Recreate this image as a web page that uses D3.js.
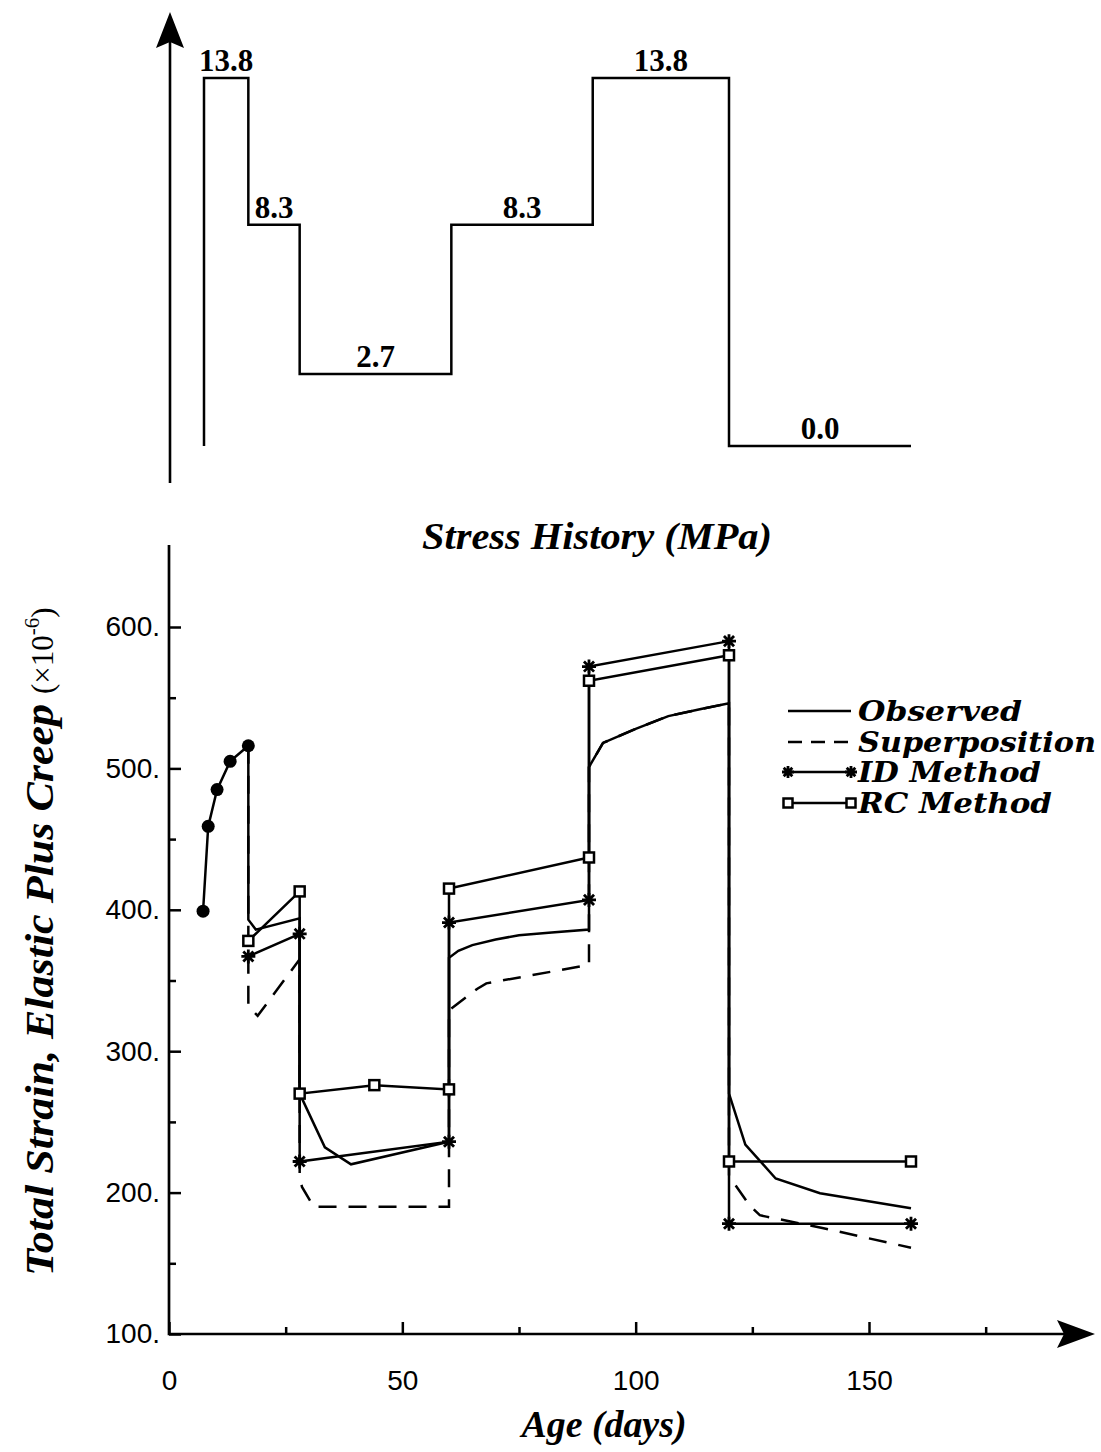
<!DOCTYPE html>
<html>
<head>
<meta charset="utf-8">
<script src="https://cdn.jsdelivr.net/npm/d3@7"></script>
<style>
  body { margin: 0; background: #fff; }
  svg { display: block; }
</style>
</head>
<body>
<svg id="chart" width="1101" height="1452"></svg>
<script>
// Stress history (MPa) : ages where the load changes, and the level held after each change
var stressAges = [7.5, 17, 28, 60.5, 90.8, 120, 159];
var stressValues = [13.8, 8.3, 2.7, 8.3, 13.8, 0.0];

// Strain (x10^-6) against age (days)
var earlyAges = [7.3, 8.4, 10.3, 13.1, 17];
var earlyStrain = [399, 459, 485, 505, 516];

var observedAges = [17, 17, 18.6, 28, 28, 33.4, 39, 60, 60, 62, 65, 70, 75, 82, 90, 90, 93, 100, 107, 114, 120, 120, 123.5, 130, 139.5, 159];
var observedStrain = [516, 393, 386, 394, 270, 232, 220, 236, 366, 371, 375, 379, 382, 384, 386, 501, 518, 528, 537, 542, 546, 270, 234, 210, 199.5, 189];

var superAges = [17, 17, 19, 28, 28, 28.5, 31, 60, 60, 66, 68, 90, 90, 93, 100, 107, 114, 120, 120, 121, 124.4, 126.6, 128, 140, 159];
var superStrain = [516, 332, 325, 365, 211, 204, 190, 190, 329, 344, 348, 361, 501, 518, 528, 537, 542, 546, 212, 207, 191, 184, 183, 175, 161];

var idAges = [17, 28, 28, 60, 60, 90, 90, 120, 120, 159];
var idStrain = [367, 383, 222, 236, 391, 407, 572, 590, 178, 178];

var rcAges = [17, 28, 28, 44, 60, 60, 90, 90, 120, 120, 159];
var rcStrain = [378, 413, 270, 276, 273, 415, 437, 562, 580, 222, 222];

var xTicks = [0, 50, 100, 150];
var xMinorTicks = [25, 75, 125, 175];
var yTicks = [100, 200, 300, 400, 500, 600];
var yMinorTicks = [150, 250, 350, 450, 550];

var legendNames = ["Observed", "Superposition", "ID Method", "RC Method"];


var svg = d3.select("#chart");
var ink = "#000";

var x = d3.scaleLinear().domain([0, 150]).range([169, 869]);
var y = d3.scaleLinear().domain([100, 600]).range([1334, 627]);
var ys = d3.scaleLinear().domain([0, 13.8]).range([446, 78]);

var axisTop = 545, axisEnd = 1095;
var stressTop = 12, stressBottom = 483, stressAxisX = 170;


// ---- stress history (top) ----
var stressPts = [[stressAges[0], 0]];
stressValues.forEach((v, i) => {
  stressPts.push([stressAges[i], v], [stressAges[i + 1], v]);
});

svg.append("line")
  .attr("x1", stressAxisX).attr("x2", stressAxisX)
  .attr("y1", stressBottom).attr("y2", stressTop + 20)
  .attr("stroke", ink).attr("stroke-width", 2.6);
svg.append("path")
  .attr("d", `M${stressAxisX},${stressTop} L${stressAxisX + 14},${stressTop + 36} L${stressAxisX},${stressTop + 30} L${stressAxisX - 14},${stressTop + 36} Z`)
  .attr("fill", ink);

svg.append("path")
  .datum(stressPts)
  .attr("d", d3.line().x(d => x(d[0])).y(d => ys(d[1])))
  .attr("fill", "none").attr("stroke", ink).attr("stroke-width", 2.5);

svg.append("g").selectAll("text")
  .data(stressValues)
  .join("text")
  .attr("x", (d, i) => (x(stressAges[i]) + x(stressAges[i + 1])) / 2)
  .attr("y", d => ys(d) - 7)
  .attr("text-anchor", "middle")
  .attr("font-family", "Liberation Serif, serif")
  .attr("font-weight", "bold")
  .attr("font-size", 31)
  .text(d => d.toFixed(1));

svg.append("text")
  .attr("x", 597).attr("y", 549)
  .attr("text-anchor", "middle")
  .attr("font-family", "Liberation Serif, serif")
  .attr("font-weight", "bold").attr("font-style", "italic")
  .attr("font-size", 37)
  .attr("textLength", 350).attr("lengthAdjust", "spacingAndGlyphs")
  .text("Stress History (MPa)");


// ---- strain axes ----
function styleAxis (g) {
  g.select(".domain").remove();
  g.selectAll(".tick line").attr("stroke", ink).attr("stroke-width", 2.5);
  g.attr("font-family", "Liberation Sans, Arial, sans-serif").attr("font-size", 28);
  g.selectAll(".tick text").attr("fill", ink);
}

svg.append("g").attr("transform", `translate(${x(0)},0)`)
  .call(d3.axisLeft(y).tickValues(yTicks).tickSize(-12).tickPadding(9).tickFormat(d => d + "."))
  .call(styleAxis);
svg.append("g").attr("transform", `translate(${x(0)},0)`)
  .call(d3.axisLeft(y).tickValues(yMinorTicks).tickSize(-7).tickFormat(""))
  .call(styleAxis);

svg.append("g").attr("transform", `translate(0,${y(100)})`)
  .call(d3.axisBottom(x).tickValues(xTicks).tickSize(-12).tickPadding(36).tickFormat(d3.format("d")))
  .call(styleAxis);
svg.append("g").attr("transform", `translate(0,${y(100)})`)
  .call(d3.axisBottom(x).tickValues(xMinorTicks).tickSize(-7).tickFormat(""))
  .call(styleAxis);

svg.append("path")
  .attr("d", `M${x(0)},${axisTop} L${x(0)},${y(100)} L${axisEnd - 20},${y(100)}`)
  .attr("fill", "none").attr("stroke", ink).attr("stroke-width", 2.7);
svg.append("path")
  .attr("d", `M${axisEnd},${y(100)} L${axisEnd - 38},${y(100) - 14} L${axisEnd - 31},${y(100)} L${axisEnd - 38},${y(100) + 14} Z`)
  .attr("fill", ink);

svg.append("text")
  .attr("x", 604).attr("y", 1437)
  .attr("text-anchor", "middle")
  .attr("font-family", "Liberation Serif, serif")
  .attr("font-weight", "bold").attr("font-style", "italic")
  .attr("font-size", 38)
  .attr("textLength", 165).attr("lengthAdjust", "spacingAndGlyphs")
  .text("Age (days)");

// y title, rotated
var yTitle = svg.append("g").attr("transform", "translate(53,0) rotate(-90)");
yTitle.append("text")
  .attr("x", -1276).attr("y", 0)
  .attr("font-family", "Liberation Serif, serif")
  .attr("font-weight", "bold").attr("font-style", "italic")
  .attr("font-size", 40)
  .attr("textLength", 572).attr("lengthAdjust", "spacingAndGlyphs")
  .text("Total Strain, Elastic Plus Creep");
var ySuffix = yTitle.append("text")
  .attr("x", -694).attr("y", 0)
  .attr("font-family", "Liberation Serif, serif")
  .attr("font-size", 31);
ySuffix.append("tspan").text("(×10");
ySuffix.append("tspan").attr("dy", -14).attr("font-size", 21).text("-6");
ySuffix.append("tspan").attr("dy", 14).text(")");


// ---- strain series ----
var line = d3.line().x(d => x(d[0])).y(d => y(d[1]));

function drawSeries (ages, values, dash) {
  svg.append("path")
    .datum(d3.zip(ages, values))
    .attr("d", line)
    .attr("fill", "none")
    .attr("stroke", ink)
    .attr("stroke-width", 2.5)
    .attr("stroke-dasharray", dash || null);
}

drawSeries(superAges, superStrain, "18,12");
drawSeries(observedAges, observedStrain);
drawSeries(earlyAges, earlyStrain);
drawSeries(idAges, idStrain);
drawSeries(rcAges, rcStrain);

function star (sel, r) {
  var a = r * 0.72;
  sel.append("path")
    .attr("d", `M${-r},0L${r},0M0,${-r}L0,${r}M${-a},${-a}L${a},${a}M${-a},${a}L${a},${-a}`)
    .attr("stroke", ink).attr("stroke-width", 2.8).attr("fill", "none");
}

function square (sel, s) {
  sel.append("rect")
    .attr("x", -s / 2).attr("y", -s / 2).attr("width", s).attr("height", s)
    .attr("fill", "#fff").attr("stroke", ink).attr("stroke-width", 2.5);
}

svg.append("g").selectAll("circle")
  .data(d3.zip(earlyAges, earlyStrain))
  .join("circle")
  .attr("cx", d => x(d[0])).attr("cy", d => y(d[1])).attr("r", 6.5)
  .attr("fill", ink);

svg.append("g").selectAll("g")
  .data(d3.zip(idAges, idStrain))
  .join("g")
  .attr("transform", d => `translate(${x(d[0])},${y(d[1])})`)
  .each(function () { star(d3.select(this), 7); });

svg.append("g").selectAll("g")
  .data(d3.zip(rcAges, rcStrain))
  .join("g")
  .attr("transform", d => `translate(${x(d[0])},${y(d[1])})`)
  .each(function () { square(d3.select(this), 10); });


// ---- legend ----
var legendY = [711, 742, 772, 803];
var legendWidths = [164, 238, 183, 194];
var lx1 = 788, lx2 = 851;

var legend = svg.append("g").selectAll("g")
  .data(legendNames)
  .join("g")
  .attr("transform", (d, i) => `translate(0,${legendY[i]})`);

legend.append("line")
  .attr("x1", lx1).attr("x2", lx2)
  .attr("stroke", ink).attr("stroke-width", 2.4)
  .attr("stroke-dasharray", (d, i) => i === 1 ? "14,9" : null);

legend.filter((d, i) => i === 2).each(function () {
  var g = d3.select(this);
  star(g.append("g").attr("transform", `translate(${lx1},0)`), 6);
  star(g.append("g").attr("transform", `translate(${lx2},0)`), 6);
});
legend.filter((d, i) => i === 3).each(function () {
  var g = d3.select(this);
  square(g.append("g").attr("transform", `translate(${lx1},0)`), 9);
  square(g.append("g").attr("transform", `translate(${lx2},0)`), 9);
});

legend.append("text")
  .attr("x", 858).attr("y", 10)
  .attr("font-family", "DejaVu Serif, serif")
  .attr("font-weight", "bold").attr("font-style", "italic")
  .attr("font-size", 27)
  .attr("textLength", (d, i) => legendWidths[i]).attr("lengthAdjust", "spacingAndGlyphs")
  .text(d => d);
</script>
</body>
</html>
